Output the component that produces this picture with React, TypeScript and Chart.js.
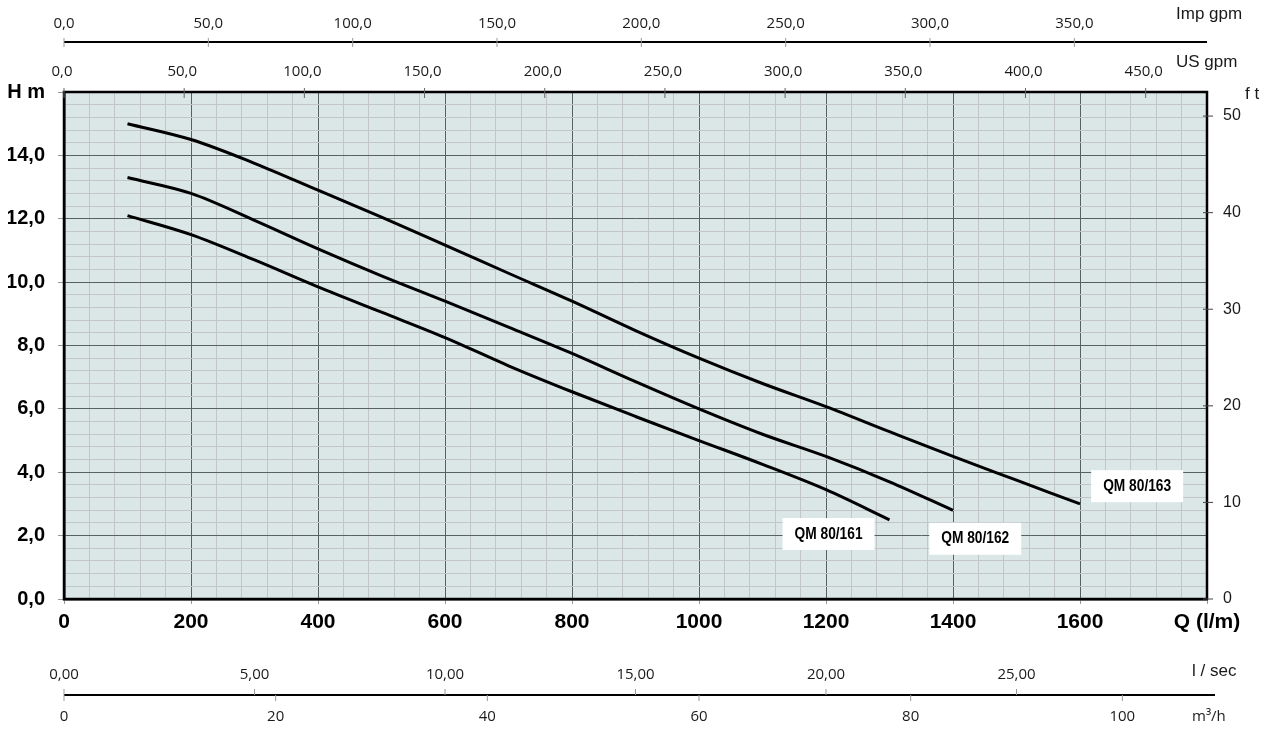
import React, { useEffect, useRef } from 'react';
import { Chart, registerables } from 'chart.js';

Chart.register(...registerables);

// ---------- data ----------
const FLOW_LPM = [100, 200, 300, 400, 500, 600, 700, 800, 900, 1000, 1100, 1200, 1300, 1400, 1500, 1600];
const HEAD_QM80_161 = [12.1, 11.5, 10.7, 9.85, 9.05, 8.25, 7.36, 6.54, 5.76, 5.0, 4.25, 3.45, 2.5];
const HEAD_QM80_162 = [13.3, 12.8, 11.95, 11.05, 10.2, 9.4, 8.58, 7.75, 6.86, 6.0, 5.2, 4.5, 3.7, 2.8];
const HEAD_QM80_163 = [15.0, 14.5, 13.75, 12.9, 12.05, 11.17, 10.28, 9.4, 8.47, 7.6, 6.8, 6.07, 5.28, 4.5, 3.75, 3.0];
const SERIES_NAMES = ['QM 80/161', 'QM 80/162', 'QM 80/163'];

const US_GPM_TICKS = [0, 50, 100, 150, 200, 250, 300, 350, 400, 450];
const IMP_GPM_TICKS = [0, 50, 100, 150, 200, 250, 300, 350];
const LPS_TICKS = [0, 5, 10, 15, 20, 25];
const M3H_TICKS = [0, 20, 40, 60, 80, 100];
const FT_TICKS = [0, 10, 20, 30, 40, 50];

// unit conversions to l/min and m
const LPM_PER_USGPM = 3.78541;
const LPM_PER_IMPGPM = 4.54609;
const LPM_PER_LPS = 60;
const LPM_PER_M3H = 1000 / 60;
const M_PER_FT = 0.3048;

// curve label anchors (data units: l/min, m)
const LABEL_ANCHORS = [
  { text: SERIES_NAMES[0], x: 1204, y: 2.05 },
  { text: SERIES_NAMES[1], x: 1435, y: 1.9 },
  { text: SERIES_NAMES[2], x: 1690, y: 3.56 },
];

// ---------- styles ----------
const BG = '#dbe7e7';
const MAJOR = '#56625f';
const MINOR = '#c2c6c6';
const SANS = '"Liberation Sans", Arial, sans-serif';
const SMALL = '"Open Sans", "Noto Sans", sans-serif';

const isMajorX = (v: number) => Math.abs(v / 200 - Math.round(v / 200)) < 1e-6;
const isMajorY = (v: number) => Math.abs(v / 2 - Math.round(v / 2)) < 1e-6;
const comma = (v: number, d: number) => v.toFixed(d).replace('.', ',');

const toPoints = (heads: number[]) => heads.map((h, i) => ({ x: FLOW_LPM[i], y: h }));

const decorPlugin = {
  id: 'decor',
  beforeDraw(chart: any) {
    const { ctx, chartArea } = chart;
    const { left, top, right, bottom } = chartArea;
    ctx.save();
    ctx.fillStyle = BG;
    ctx.fillRect(left, top, right - left, bottom - top);
    ctx.restore();
  },
  afterDraw(chart: any) {
    const { ctx, chartArea } = chart;
    const xs = chart.scales.x;
    const ys = chart.scales.y;
    const { left, top, right, bottom } = chartArea;
    ctx.save();

    // frame
    ctx.strokeStyle = '#000';
    ctx.lineWidth = 2.5;
    ctx.strokeRect(left, top, right - left, bottom - top);

    ctx.fillStyle = '#1a1a1a';
    ctx.textBaseline = 'middle';

    // US gpm (top of plot)
    ctx.font = `15px ${SMALL}`;
    ctx.textAlign = 'center';
    US_GPM_TICKS.forEach((v) => {
      const px = xs.getPixelForValue(v * LPM_PER_USGPM);
      ctx.strokeStyle = '#666';
      ctx.lineWidth = 1;
      ctx.beginPath();
      ctx.moveTo(px, top - 4);
      ctx.lineTo(px, top + 6);
      ctx.stroke();
      ctx.fillText(comma(v, 1), px - 2, 72);
    });

    // Imp gpm axis
    const impY = 42;
    ctx.strokeStyle = '#000';
    ctx.lineWidth = 2;
    ctx.beginPath();
    ctx.moveTo(left, impY);
    ctx.lineTo(right, impY);
    ctx.stroke();
    IMP_GPM_TICKS.forEach((v) => {
      const px = xs.getPixelForValue(v * LPM_PER_IMPGPM);
      ctx.strokeStyle = '#999';
      ctx.lineWidth = 1;
      ctx.beginPath();
      ctx.moveTo(px, impY - 4);
      ctx.lineTo(px, impY + 5);
      ctx.stroke();
      ctx.fillText(comma(v, 1), px, 24);
    });

    ctx.textAlign = 'left';
    ctx.font = `17px ${SANS}`;
    ctx.fillText('Imp gpm', 1176, 14);
    ctx.fillText('US gpm', 1176, 62);

    // ft axis (right)
    ctx.font = `16px ${SANS}`;
    FT_TICKS.forEach((v) => {
      const py = ys.getPixelForValue(v * M_PER_FT);
      ctx.strokeStyle = '#444';
      ctx.lineWidth = 1;
      ctx.beginPath();
      ctx.moveTo(right - 4, py);
      ctx.lineTo(right + 6, py);
      ctx.stroke();
      ctx.fillText(String(v), 1223, py);
    });
    ctx.font = `17px ${SANS}`;
    ctx.fillText('f t', 1245, 94);

    // bottom l/sec and m3/h axis
    const bY = 695;
    ctx.strokeStyle = '#000';
    ctx.lineWidth = 2;
    ctx.beginPath();
    ctx.moveTo(left, bY);
    ctx.lineTo(xs.getPixelForValue(30 * LPM_PER_LPS) + 8, bY);
    ctx.stroke();
    ctx.font = `15px ${SMALL}`;
    ctx.textAlign = 'center';
    LPS_TICKS.forEach((v) => {
      const px = xs.getPixelForValue(v * LPM_PER_LPS);
      ctx.strokeStyle = '#999';
      ctx.lineWidth = 1;
      ctx.beginPath();
      ctx.moveTo(px, bY - 6);
      ctx.lineTo(px, bY);
      ctx.stroke();
      ctx.fillText(comma(v, 2), px, 675);
    });
    M3H_TICKS.forEach((v) => {
      const px = xs.getPixelForValue(v * LPM_PER_M3H);
      ctx.strokeStyle = '#999';
      ctx.lineWidth = 1;
      ctx.beginPath();
      ctx.moveTo(px, bY);
      ctx.lineTo(px, bY + 6);
      ctx.stroke();
      ctx.fillText(String(v), px, 717);
    });
    ctx.textAlign = 'left';
    ctx.font = `17px ${SANS}`;
    ctx.fillText('l / sec', 1192, 671);
    ctx.font = `15px ${SMALL}`;
    ctx.fillText('m³/h', 1192, 717);

    // curve labels
    LABEL_ANCHORS.forEach((a) => {
      const cx = xs.getPixelForValue(a.x);
      const cy = ys.getPixelForValue(a.y);
      const w = 92;
      const h = 32;
      ctx.fillStyle = '#fff';
      ctx.fillRect(cx - w / 2, cy - h / 2, w, h);
      ctx.fillStyle = '#000';
      ctx.font = `bold 17px "Liberation Sans Narrow", ${SANS}`;
      const tw = ctx.measureText(a.text).width;
      const sx = 68 / tw;
      ctx.save();
      ctx.translate(cx, cy);
      ctx.scale(sx, 1);
      ctx.textAlign = 'center';
      ctx.fillText(a.text, 0, 0);
      ctx.restore();
    });

    ctx.restore();
  },
};

export default function App() {
  const ref = useRef<HTMLCanvasElement>(null);

  useEffect(() => {
    const curveStyle = {
      borderColor: '#000',
      borderWidth: 3,
      pointRadius: 0,
      fill: false,
      cubicInterpolationMode: 'monotone' as const,
    };
    const chart = new Chart(ref.current as HTMLCanvasElement, {
      type: 'line',
      data: {
        datasets: [
          { label: SERIES_NAMES[0], data: toPoints(HEAD_QM80_161), ...curveStyle },
          { label: SERIES_NAMES[1], data: toPoints(HEAD_QM80_162), ...curveStyle },
          { label: SERIES_NAMES[2], data: toPoints(HEAD_QM80_163), ...curveStyle },
        ],
      },
      options: {
        animation: false,
        responsive: false,
        maintainAspectRatio: false,
        layout: { padding: { left: 8, right: 62, top: 92, bottom: 90 } },
        plugins: { legend: { display: false }, tooltip: { enabled: false } },
        scales: {
          x: {
            type: 'linear',
            min: 0,
            max: 1800,
            afterFit: (s: any) => {
              s.height = 40;
            },
            ticks: {
              stepSize: 40,
              autoSkip: false,
              maxRotation: 0,
              padding: 6,
              color: '#000',
              font: { family: SANS, size: 21, weight: 'bold' },
              callback: (v: any) => {
                const n = Number(v);
                if (!isMajorX(n)) return '';
                return n === 1800 ? 'Q (l/m)' : String(n);
              },
            },
            grid: {
              color: (c: any) => (isMajorX(c.tick.value) ? MAJOR : MINOR),
              lineWidth: 1,
              tickLength: 5,
              tickColor: (c: any) => (isMajorX(c.tick.value) ? '#999' : 'rgba(0,0,0,0)'),
            },
            border: { color: '#000', width: 2.5 },
          },
          y: {
            type: 'linear',
            min: 0,
            max: 16,
            afterFit: (s: any) => {
              s.width = 56;
            },
            ticks: {
              stepSize: 0.4,
              autoSkip: false,
              padding: 13,
              color: '#000',
              font: { family: SANS, size: 20, weight: 'bold' },
              callback: (v: any) => {
                const n = Number(v);
                if (!isMajorY(n)) return '';
                return Math.abs(n - 16) < 1e-6 ? 'H m' : comma(n, 1);
              },
            },
            grid: {
              color: (c: any) => (isMajorY(c.tick.value) ? MAJOR : MINOR),
              lineWidth: 1,
              tickLength: 6,
              tickColor: (c: any) => (isMajorY(c.tick.value) ? '#999' : 'rgba(0,0,0,0)'),
            },
            border: { color: '#000', width: 2.5 },
          },
        },
      },
      plugins: [decorPlugin],
    } as any);
    return () => chart.destroy();
  }, []);

  return (
    <div style={{ position: 'fixed', left: 0, top: 0, width: 1269, height: 729, background: '#fff' }}>
      <canvas ref={ref} width={1269} height={729} style={{ display: 'block', width: 1269, height: 729 }} />
    </div>
  );
}
